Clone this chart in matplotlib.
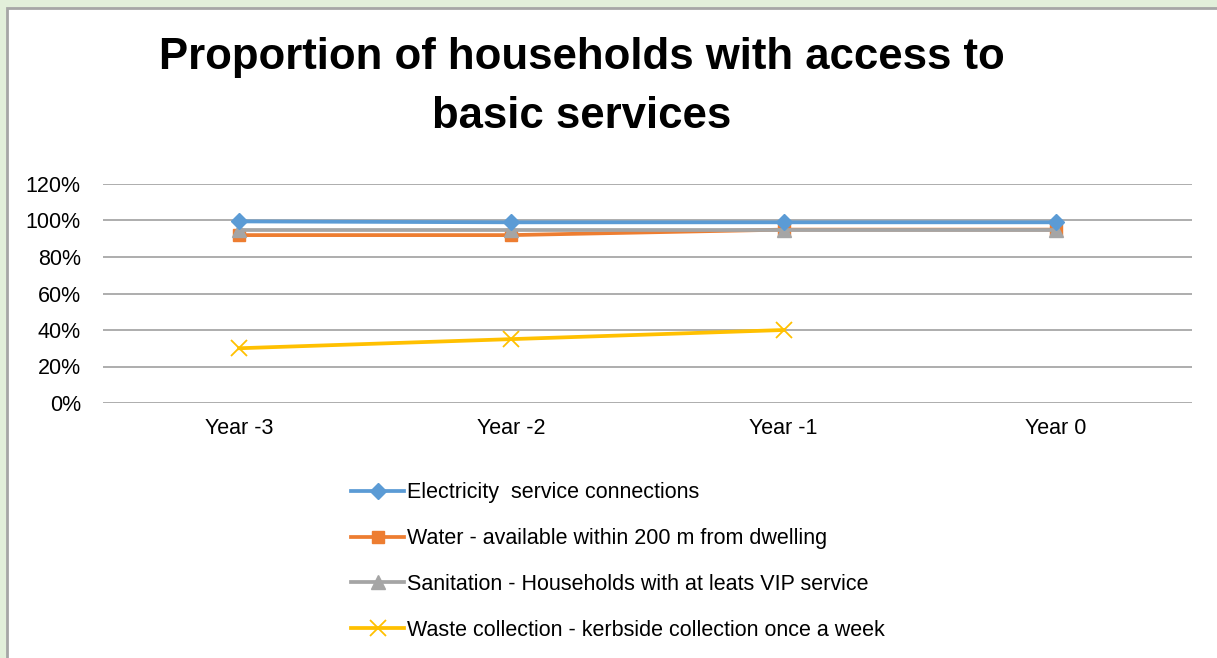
import matplotlib.pyplot as plt
from matplotlib.patches import Rectangle
from matplotlib.ticker import FuncFormatter

plt.rcParams['font.family'] = ['Liberation Sans', 'DejaVu Sans']

years = ['Year -3', 'Year -2', 'Year -1', 'Year 0']
electricity = [99.5, 99, 99, 99]
water = [92, 92, 95, 95]
sanitation = [95, 95, 95, 95]
waste = [30, 35, 40, None]

labels = ['Electricity  service connections',
          'Water - available within 200 m from dwelling',
          'Sanitation - Households with at leats VIP service',
          'Waste collection - kerbside collection once a week']

fig = plt.figure(figsize=(12.17, 6.58), dpi=100)
fig.patch.set_facecolor('#E2EFDA')
# white chart panel with grey edge
panel = Rectangle((7 / 1217, -0.1), 1.2, 1 - 8 / 658 + 0.1,
                  transform=fig.transFigure, facecolor='white',
                  edgecolor='#A6A6A6', linewidth=2, zorder=-10)
fig.patches.append(panel)

ax = fig.add_axes([103 / 1217, 1 - 403 / 658, (1192 - 103) / 1217, (403 - 184) / 658])
ax.set_facecolor('none')
x = list(range(len(years)))

ax.plot(x, electricity, color='#5B9BD5', lw=2.7, marker='D', ms=8, label=labels[0], zorder=5)
ax.plot(x, water, color='#ED7D31', lw=2.7, marker='s', ms=9, label=labels[1], zorder=3)
ax.plot(x, sanitation, color='#A5A5A5', lw=2.7, marker='^', ms=10, label=labels[2], zorder=4)
wx = [i for i, v in zip(x, waste) if v is not None]
wy = [v for v in waste if v is not None]
ax.plot(wx, wy, color='#FFC000', lw=2.7, marker='x', ms=11, mew=1.3, label=labels[3], zorder=4)

ax.set_xlim(-0.5, 3.5)
ax.set_ylim(0, 120)
ax.set_yticks(range(0, 121, 20))
ax.yaxis.set_major_formatter(FuncFormatter(lambda v, p: f'{v:.0f}%'))
ax.set_xticks(x)
ax.set_xticklabels(years)
ax.grid(axis='y', color='#A0A0A0', lw=1.2)
ax.set_axisbelow(True)
for s in ax.spines.values():
    s.set_visible(False)
ax.tick_params(length=0, labelsize=15.5, pad=11)
ax.tick_params(axis='y', pad=16)

fig.text(0.478, 1 - 58 / 658, 'Proportion of households with access to',
         ha='center', va='center', fontsize=31.5, fontweight='bold')
fig.text(0.478, 1 - 117 / 658, 'basic services',
         ha='center', va='center', fontsize=31.5, fontweight='bold')

leg = fig.legend(loc='upper left', bbox_to_anchor=(332 / 1217, 1 - 463 / 658),
                 frameon=False, fontsize=15.5, handlelength=2.45, handletextpad=0.15,
                 labelspacing=1.15)

fig.savefig('out.png', dpi=100, facecolor=fig.get_facecolor())
